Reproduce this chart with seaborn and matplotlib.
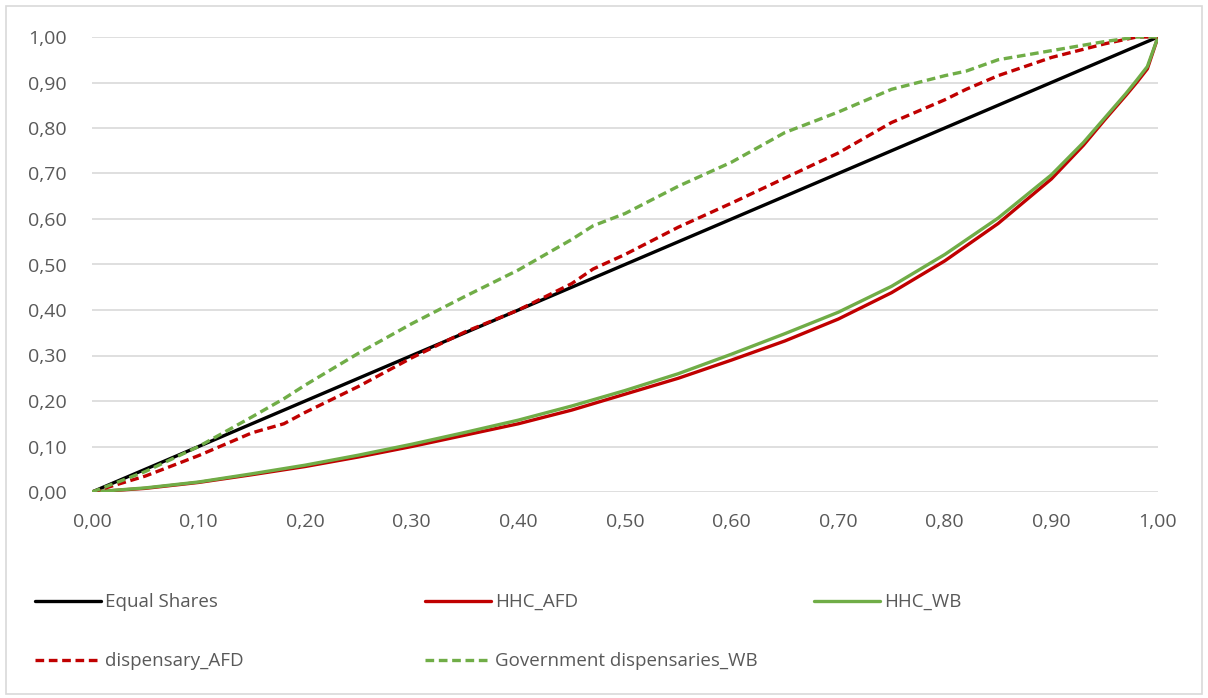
import pandas as pd
import matplotlib.pyplot as plt
import seaborn as sns
from matplotlib.ticker import FuncFormatter, MultipleLocator

# cumulative population share (x) and cumulative share (y)
x_equal = [0.0, 1.0]
y_equal = [0.0, 1.0]

x_hhc = [0.0, 0.05, 0.10, 0.15, 0.20, 0.25, 0.30, 0.35, 0.40, 0.45, 0.50, 0.55,
         0.60, 0.65, 0.70, 0.75, 0.80, 0.85, 0.90, 0.93, 0.95, 0.97, 0.98, 0.99, 1.0]
y_hhc_afd = [0.0, 0.008, 0.021, 0.038, 0.056, 0.077, 0.100, 0.125, 0.150, 0.180, 0.215, 0.250,
             0.290, 0.332, 0.380, 0.438, 0.508, 0.590, 0.688, 0.762, 0.818, 0.872, 0.900, 0.930, 1.0]
y_hhc_wb = [0.0, 0.009, 0.022, 0.040, 0.059, 0.081, 0.105, 0.131, 0.158, 0.189, 0.223, 0.260,
            0.303, 0.348, 0.395, 0.452, 0.522, 0.602, 0.697, 0.768, 0.822, 0.876, 0.905, 0.935, 1.0]

x_disp = [0.0, 0.05, 0.10, 0.15, 0.18, 0.20, 0.25, 0.30, 0.35, 0.40, 0.45, 0.47, 0.50, 0.55,
          0.60, 0.65, 0.70, 0.75, 0.80, 0.82, 0.85, 0.90, 0.95, 0.98, 1.0]
y_disp_afd = [0.0, 0.035, 0.080, 0.130, 0.150, 0.175, 0.232, 0.295, 0.352, 0.400, 0.458, 0.490,
              0.522, 0.582, 0.635, 0.690, 0.745, 0.812, 0.862, 0.885, 0.915, 0.955, 0.985, 1.0, 1.0]
y_disp_wb = [0.0, 0.045, 0.100, 0.165, 0.205, 0.235, 0.305, 0.370, 0.430, 0.488, 0.555, 0.585,
             0.612, 0.672, 0.725, 0.790, 0.835, 0.885, 0.915, 0.925, 0.950, 0.970, 0.990, 1.0, 1.0]

series = [
    ("Equal Shares", x_equal, y_equal, "#000000", "-"),
    ("HHC_AFD", x_hhc, y_hhc_afd, "#c00000", "-"),
    ("HHC_WB", x_hhc, y_hhc_wb, "#70ad47", "-"),
    ("dispensary_AFD", x_disp, y_disp_afd, "#c00000", "--"),
    ("Government dispensaries_WB", x_disp, y_disp_wb, "#70ad47", "--"),
]

sns.set_style("white")
plt.rcParams['font.family'] = ['Open Sans', 'DejaVu Sans']

fig = plt.figure(figsize=(12.08, 6.98), dpi=100)
ax = fig.add_axes([92 / 1208, 1 - 492 / 698, (1158 - 92) / 1208, (492 - 37) / 698])

for name, xs, ys, color, ls in series:
    df = pd.DataFrame({"x": xs, "y": ys})
    sns.lineplot(data=df, x="x", y="y", ax=ax, color=color, linewidth=2.4,
                 label=name, sort=False)
    line = ax.get_lines()[-1]
    if ls == "--":
        line.set_dashes((2.6, 1.4))

ax.set_xlim(0, 1)
ax.set_ylim(0, 1)
ax.xaxis.set_major_locator(MultipleLocator(0.1))
ax.yaxis.set_major_locator(MultipleLocator(0.1))
fmt = FuncFormatter(lambda v, p: f"{v:.2f}".replace(".", ","))
ax.xaxis.set_major_formatter(fmt)
ax.yaxis.set_major_formatter(fmt)
ax.grid(axis="y", color="#d9d9d9", linewidth=1.2)
ax.grid(axis="x", visible=False)
for s in ax.spines.values():
    s.set_visible(False)
ax.tick_params(axis="both", length=0, labelsize=14, colors="#595959")
ax.tick_params(axis="y", pad=18)
ax.tick_params(axis="x", pad=15)
ax.set_xlabel("")
ax.set_ylabel("")
ax.set_axisbelow(True)

handles, labels = ax.get_legend_handles_labels()
ax.get_legend().remove()

# legend laid out row-wise, one legend per column
columns = [[0, 3], [1, 4], [2]]
col_x = [0.023, 0.346, 0.668]
for idx, cx in zip(columns, col_x):
    fig.legend([handles[i] for i in idx], [labels[i] for i in idx],
               loc="upper left", bbox_to_anchor=(cx, 0.161), frameon=False,
               fontsize=13.5, labelcolor="#595959", handlelength=3.5,
               handletextpad=0.2, labelspacing=2.2, borderaxespad=0)

fig.patches.append(plt.Rectangle((6 / 1208, 4 / 698), 1 - 12 / 1208, 1 - 10 / 698,
                                 transform=fig.transFigure, fill=False,
                                 edgecolor="#d9d9d9", linewidth=1.2))

plt.savefig("out.png", dpi=100)
plt.close()
